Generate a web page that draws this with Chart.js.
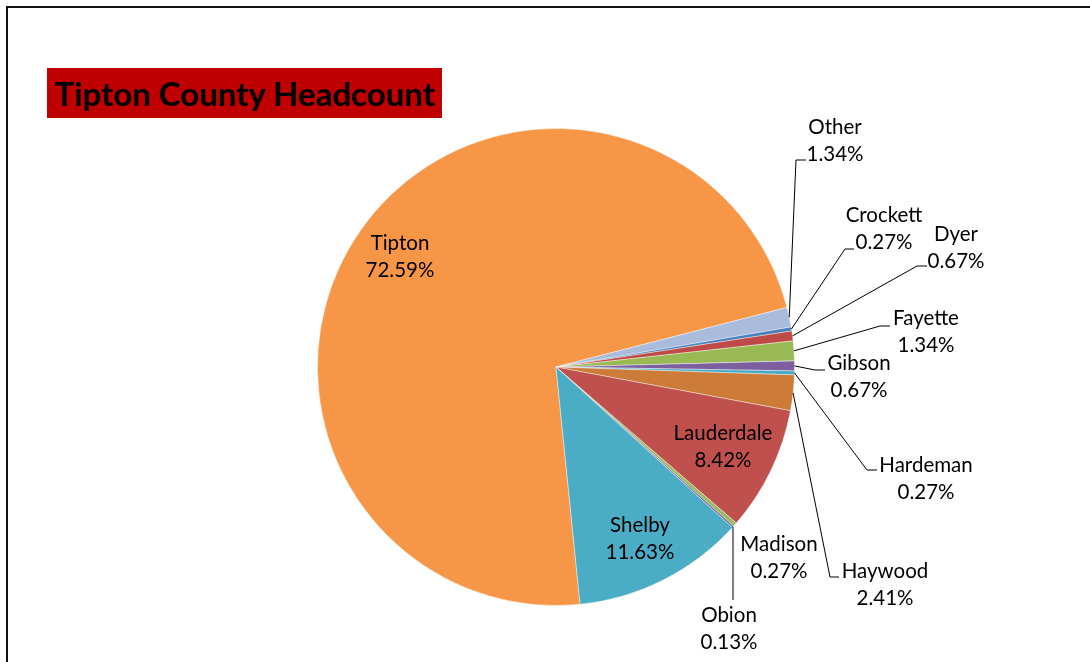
<!DOCTYPE html>
<html>
<head>
<meta charset="utf-8">
<title>Tipton County Headcount</title>
<script src="https://cdn.jsdelivr.net/npm/chart.js@4"></script>
<style>
    html, body { margin: 0; padding: 0; background: #fff; overflow: hidden; }
    #wrap { position: relative; width: 1090px; height: 662px; }
    #frame {
        position: absolute; left: 6px; top: 6px; width: 1200px; height: 800px;
        border-left: 2px solid #111; border-top: 2px solid #111;
    }
    #title {
        position: absolute; left: 47px; top: 68px; width: 395px; height: 50px;
        background: #C00000; color: #000;
        font-family: Lato, 'Open Sans', sans-serif; font-weight: bold; font-size: 33px;
        line-height: 50px; text-align: center; white-space: nowrap;
    }
    #chart-box { position: absolute; left: 0; top: 0; width: 1090px; height: 662px; }
</style>
</head>
<body>
<div id="wrap">
    <div id="frame"></div>
    <div id="chart-box"><canvas id="pieChart"></canvas></div>
    <div id="title">Tipton County Headcount</div>
</div>

<script>
// Data (headcount by county)
const counties = ['Tipton', 'Other', 'Crockett', 'Dyer', 'Fayette', 'Gibson', 'Hardeman',
                  'Haywood', 'Lauderdale', 'Madison', 'Obion', 'Shelby'];
const headcount = [543, 10, 2, 5, 10, 5, 2, 18, 63, 2, 1, 87];

const sliceColors = ['#F79646', '#A9BCDC', '#4A7EBB', '#BE4B48', '#98B954', '#7D5FA0', '#46AAC5',
                     '#CD7B38', '#C0504D', '#9BBB59', '#8064A2', '#4BACC6'];

// Label layout: text centre (x, y of first line) and optional leader elbow
const labelSpots = {
    'Tipton':     { x: 400, y: 243 },
    'Shelby':     { x: 640, y: 525 },
    'Lauderdale': { x: 723, y: 433 },
    'Madison':    { x: 779, y: 544 },
    'Other':      { x: 835, y: 127, elbow: [796, 160], end: [806, 160] },
    'Crockett':   { x: 884, y: 215, elbow: [845, 249], end: [854, 249] },
    'Dyer':       { x: 956, y: 234, elbow: [917, 266], end: [927, 266] },
    'Fayette':    { x: 926, y: 318, elbow: [880, 326], end: [890, 326] },
    'Gibson':     { x: 859, y: 363, elbow: [815, 370], end: [825, 370] },
    'Hardeman':   { x: 926, y: 465, elbow: [867, 470], end: [877, 470] },
    'Haywood':    { x: 885, y: 571, elbow: [830, 577], end: [839, 577] },
    'Obion':      { x: 729, y: 615, elbow: [733, 600] }
};

// Plugin: draws data labels with leader lines
const pieLabels = {
    id: 'pieLabels',
    afterDatasetsDraw(chart) {
        const ctx = chart.ctx;
        const meta = chart.getDatasetMeta(0);
        const total = headcount.reduce((a, b) => a + b, 0);

        ctx.save();
        ctx.font = '20.5px Lato, "Open Sans", sans-serif';
        ctx.fillStyle = '#000';
        ctx.textAlign = 'center';
        ctx.textBaseline = 'middle';
        ctx.strokeStyle = '#000';
        ctx.lineWidth = 1;

        meta.data.forEach((arc, i) => {
            const spot = labelSpots[counties[i]];
            if (!spot) return;
            const p = arc.getProps(['x', 'y', 'startAngle', 'endAngle', 'outerRadius'], true);
            const mid = (p.startAngle + p.endAngle) / 2;

            if (spot.elbow) {
                const ax = p.x + Math.cos(mid) * p.outerRadius;
                const ay = p.y + Math.sin(mid) * p.outerRadius;
                ctx.beginPath();
                ctx.moveTo(ax, ay);
                ctx.lineTo(spot.elbow[0], spot.elbow[1]);
                if (spot.end) ctx.lineTo(spot.end[0], spot.end[1]);
                ctx.stroke();
            }

            const pct = (headcount[i] / total * 100).toFixed(2) + '%';
            ctx.fillText(counties[i], spot.x, spot.y);
            ctx.fillText(pct, spot.x, spot.y + 27);
        });
        ctx.restore();
    }
};

// Initialize Chart.js
function initChart() {
    const ctx = document.getElementById('pieChart').getContext('2d');
    new Chart(ctx, {
        type: 'pie',
        data: {
            labels: counties,
            datasets: [{
                data: headcount,
                backgroundColor: sliceColors,
                borderColor: 'rgba(255,255,255,0.4)',
                borderWidth: 1,
                hoverOffset: 0
            }]
        },
        options: {
            responsive: true,
            maintainAspectRatio: false,
            animation: false,
            rotation: 174.2,
            layout: { padding: { left: 317, right: 295, top: 128, bottom: 56 } },
            plugins: {
                legend: { display: false },
                tooltip: { enabled: false },
                title: { display: false }
            }
        },
        plugins: [pieLabels]
    });
}

document.addEventListener('DOMContentLoaded', initChart);
</script>
</body>
</html>
